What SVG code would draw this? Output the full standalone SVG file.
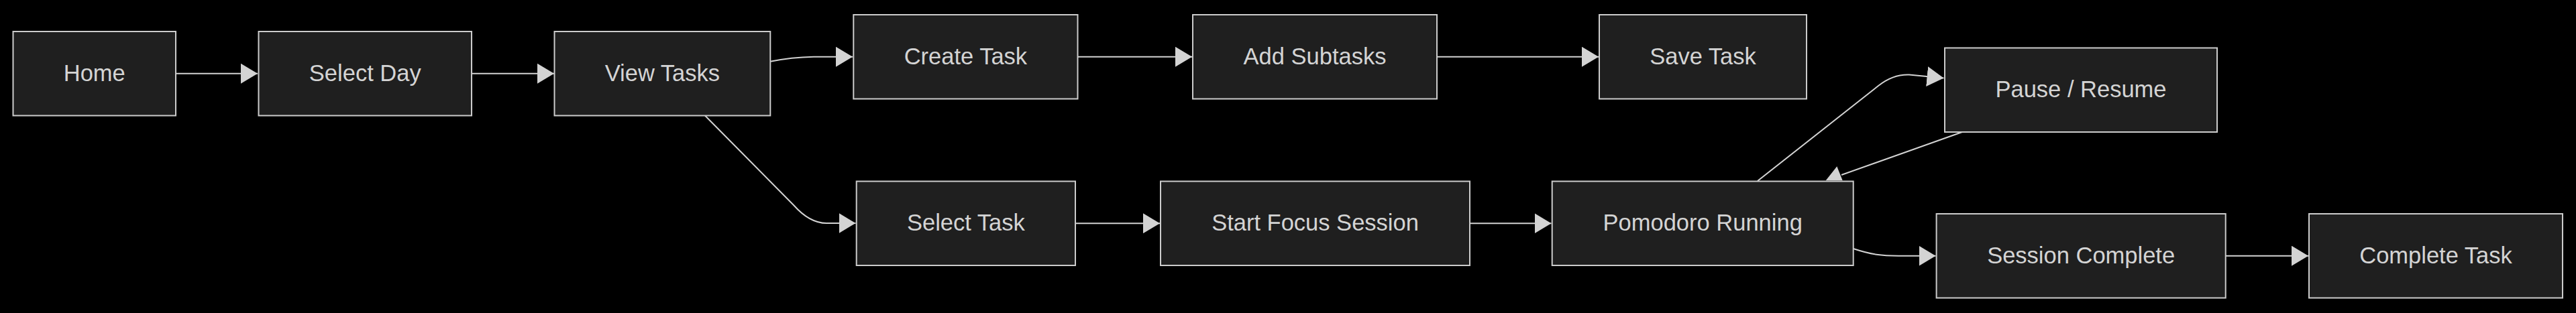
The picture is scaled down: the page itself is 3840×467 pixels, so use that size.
<svg xmlns="http://www.w3.org/2000/svg" width="3840" height="467" viewBox="0 0 3840 467">
  <style>
    .node rect { fill: #1f1f1f; stroke: #cccccc; stroke-width: 2; }
    .node text { fill: #d4d4d4; font-family: "Liberation Sans", Arial, sans-serif; font-size: 34.5px; text-anchor: middle; }
    .edge { fill: none; stroke: #d3d3d3; stroke-width: 2; }
    .head { fill: #d3d3d3; }
  </style>
  <defs>
    <marker id="arrow" markerUnits="userSpaceOnUse" markerWidth="25" markerHeight="30" viewBox="0 0 25 30" refX="25" refY="15" orient="auto">
      <path d="M0,0 L25,15 L0,30 Z" class="head"/>
    </marker>
  </defs>
  <rect x="0" y="0" width="3840" height="467" fill="#000000"/>

  <g id="connectors">
    <path class="edge" marker-end="url(#arrow)" d="M262,109.75 L384,109.75"/>
    <path class="edge" marker-end="url(#arrow)" d="M703,109.75 L826,109.75"/>
    <path class="edge" marker-end="url(#arrow)" d="M1148.3,91.7 Q1180,85.5 1213,84.75 L1271,84.75"/>
    <path class="edge" marker-end="url(#arrow)" d="M1606.5,84.75 L1777,84.75"/>
    <path class="edge" marker-end="url(#arrow)" d="M2142,84.75 L2383,84.75"/>
    <path class="edge" marker-end="url(#arrow)" d="M1051,172.5 L1183,306 Q1207,333 1232,333 L1275.5,333"/>
    <path class="edge" marker-end="url(#arrow)" d="M1603,333.2 L1729,333.2"/>
    <path class="edge" marker-end="url(#arrow)" d="M2191,333.2 L2312.5,333.2"/>
    <path class="edge" marker-end="url(#arrow)" d="M2620,270 L2800,128 Q2822,110.6 2846,111.5 L2897.5,116.5"/>
    <path class="edge" d="M2925,197 L2745,261"/>
    <polygon class="head" points="2738.3,248.3 2721.7,269.3 2746.7,269.3"/>
    <path class="edge" marker-end="url(#arrow)" d="M2762.7,371 C2790,380 2805,381.7 2830,381.7 L2885.5,381.7"/>
    <path class="edge" marker-end="url(#arrow)" d="M3317.7,381.7 L3441,381.7"/>
  </g>

  <g id="home" class="node">
    <rect x="19.5" y="47" width="242.5" height="125.5"/>
    <text x="140.75" y="120.5">Home</text>
  </g>
  <g id="select-day" class="node">
    <rect x="385.5" y="47" width="317.5" height="125.5"/>
    <text x="544.25" y="120.5">Select Day</text>
  </g>
  <g id="view-tasks" class="node">
    <rect x="826.5" y="47" width="321.8" height="125.5"/>
    <text x="987.4" y="120.5">View Tasks</text>
  </g>
  <g id="create-task" class="node">
    <rect x="1272.3" y="22" width="334.2" height="125.5"/>
    <text x="1439.4" y="95.5">Create Task</text>
  </g>
  <g id="add-subtasks" class="node">
    <rect x="1778" y="22" width="364" height="125.5"/>
    <text x="1960" y="95.5">Add Subtasks</text>
  </g>
  <g id="save-task" class="node">
    <rect x="2384" y="22" width="309" height="125.5"/>
    <text x="2538.5" y="95.5">Save Task</text>
  </g>
  <g id="select-task" class="node">
    <rect x="1276.7" y="270.5" width="326.3" height="125.5"/>
    <text x="1439.85" y="344">Select Task</text>
  </g>
  <g id="start-focus-session" class="node">
    <rect x="1730" y="270.5" width="461" height="125.5"/>
    <text x="1960.5" y="344">Start Focus Session</text>
  </g>
  <g id="pomodoro-running" class="node">
    <rect x="2313.7" y="270.5" width="449" height="125.5"/>
    <text x="2538.2" y="344">Pomodoro Running</text>
  </g>
  <g id="pause-resume" class="node">
    <rect x="2899" y="71.5" width="406" height="125.5"/>
    <text x="3102" y="145">Pause / Resume</text>
  </g>
  <g id="session-complete" class="node">
    <rect x="2886.6" y="319" width="431.1" height="125.5"/>
    <text x="3102.15" y="392.5">Session Complete</text>
  </g>
  <g id="complete-task" class="node">
    <rect x="3442" y="319" width="378" height="125.5"/>
    <text x="3631" y="392.5">Complete Task</text>
  </g>
</svg>
